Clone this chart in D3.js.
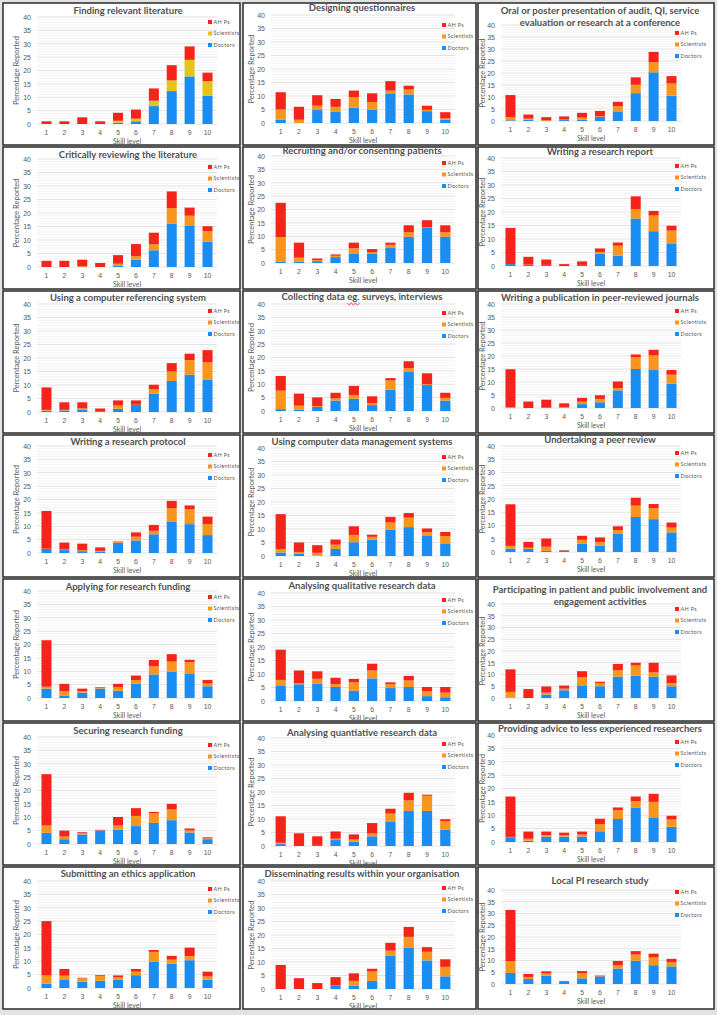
<!DOCTYPE html>
<html><head><meta charset="utf-8">
<script src="https://cdn.jsdelivr.net/npm/d3@7"></script>
<style>
body{margin:0;background:#e2e2e2;}
svg{display:block;font-family:Lato,"Open Sans",sans-serif;}
</style></head><body>
<svg id="chart" width="717" height="1015"></svg>
<script>
// values (percentage reported per skill level)
const skillLevels = [1, 2, 3, 4, 5, 6, 7, 8, 9, 10];
const yTicks = [0, 5, 10, 15, 20, 25, 30, 35, 40];
const seriesNames = ["Doctors", "Scientists", "AH Ps"];
const titles = [
  ["Finding relevant literature"],
  ["Designing questionnaires"],
  ["Oral or poster presentation of audit, QI, service", "evaluation or research at a conference"],
  ["Critically reviewing the literature"],
  ["Recruiting and/or consenting patients"],
  ["Writing a research report"],
  ["Using a computer referencing system"],
  ["Collecting data eg. surveys, interviews"],
  ["Writing a publication in peer-reviewed journals"],
  ["Writing a research protocol"],
  ["Using computer data management systems"],
  ["Undertaking a peer review"],
  ["Applying for research funding"],
  ["Analysing qualitative research data"],
  ["Participating in patient and public involvement and", "engagement activities"],
  ["Securing research funding"],
  ["Analysing quantiative research data"],
  ["Providing advice to less experienced researchers"],
  ["Submitting an ethics application"],
  ["Disseminating results within your organisation"],
  ["Local PI research study"]
];
const doctors = [
  [0, 0, 0, 0, 0.5, 1.0, 6.7, 12.3, 17.8, 10.5],
  [1.2, 0, 4.8, 4.3, 5.7, 5.0, 11.0, 10.6, 4.4, 1.2],
  [0.3, 0.5, 0, 0.4, 0.5, 1.7, 4.0, 11.6, 20.3, 10.5],
  [0, 0, 0, 0, 0.4, 2.7, 6.2, 16.0, 15.2, 9.4],
  [0.4, 0.4, 0.7, 2.2, 3.6, 3.6, 5.6, 9.8, 13.2, 9.8],
  [0.7, 0.4, 0.4, 0, 0.4, 4.5, 3.8, 17.6, 12.9, 8.4],
  [0.5, 0.6, 0.8, 0.1, 1.2, 2.7, 6.8, 11.5, 13.8, 11.9],
  [0.7, 0.4, 1.5, 3.9, 4.6, 2.2, 8.0, 14.6, 9.7, 3.9],
  [0, 0, 0.3, 0, 1.5, 2.2, 6.8, 15.0, 14.6, 9.4],
  [1.5, 1.1, 0.7, 0.6, 3.8, 4.7, 7.0, 11.6, 10.8, 6.7],
  [1.3, 0.8, 0.1, 2.6, 5.1, 6.1, 9.7, 10.7, 7.4, 4.7],
  [1.3, 1.2, 0.4, 0.5, 3.1, 2.4, 7.0, 13.2, 12.4, 7.4],
  [3.5, 0.8, 2.0, 3.5, 2.7, 5.3, 8.8, 9.9, 9.2, 4.4],
  [5.8, 6.2, 6.5, 5.2, 3.8, 8.4, 4.8, 5.2, 1.8, 1.4],
  [0.1, 0, 1.5, 3.3, 5.4, 5.0, 9.1, 9.5, 9.1, 5.0],
  [4.2, 1.8, 3.6, 5.0, 5.3, 6.7, 7.9, 8.9, 4.3, 1.8],
  [0.7, 0, 0.4, 2.2, 1.6, 3.6, 8.9, 13.0, 13.0, 6.1],
  [1.8, 0.5, 2.0, 2.0, 2.0, 4.0, 8.6, 12.9, 9.2, 5.7],
  [1.6, 3.0, 2.4, 2.7, 3.2, 4.8, 9.9, 9.1, 10.4, 3.1],
  [0, 0, 0, 1.3, 1.3, 3.0, 12.4, 15.2, 10.6, 4.7],
  [4.7, 2.1, 3.6, 1.2, 2.4, 3.2, 6.6, 9.9, 8.0, 7.5]
];
const scientists = [
  [0, 0, 0, 0, 0.7, 1.0, 2.0, 4.0, 6.2, 5.5],
  [3.8, 1.2, 1.6, 1.7, 3.9, 2.8, 1.0, 1.8, 0.5, 0.5],
  [1.3, 0.5, 0.3, 0.2, 0.9, 0.3, 2.2, 3.5, 4.2, 5.1],
  [0, 0, 0.3, 0, 0.8, 1.3, 2.2, 5.8, 3.8, 3.9],
  [9.3, 1.6, 0.4, 0.5, 1.9, 0.5, 1.2, 1.7, 0.1, 1.7],
  [0, 0.1, 0, 0, 0, 0.7, 3.7, 3.5, 5.8, 4.7],
  [0.3, 0.2, 0.5, 0, 1.2, 0, 1.6, 3.5, 5.4, 6.5],
  [6.9, 1.6, 0.3, 0.8, 1.4, 0.8, 3.4, 1.4, 0.3, 1.0],
  [0.3, 0, 0, 0.3, 0.9, 1.3, 0.9, 4.6, 5.6, 3.4],
  [0.1, 0.2, 0.3, 0.2, 0.3, 1.4, 1.3, 5.1, 5.5, 4.1],
  [1.3, 0.7, 1.1, 1.6, 2.7, 1.0, 2.7, 3.5, 1.4, 2.7],
  [1.0, 0.4, 1.6, 0, 1.5, 1.4, 1.3, 4.3, 4.1, 1.8],
  [0.7, 1.7, 0.6, 0.2, 1.4, 1.4, 3.0, 3.7, 4.2, 1.0],
  [2.0, 0.3, 1.7, 1.0, 3.1, 2.9, 1.4, 2.4, 1.8, 1.7],
  [2.5, 0, 0.8, 0.7, 3.4, 1.3, 2.7, 4.3, 1.8, 1.3],
  [2.7, 1.0, 0.4, 0.1, 1.6, 3.8, 3.6, 4.0, 0.8, 0.3],
  [0.5, 0, 0, 0.5, 0.8, 1.0, 3.1, 3.9, 5.6, 3.1],
  [0.1, 0.7, 0.6, 0.6, 0.8, 2.7, 3.3, 2.4, 5.8, 2.7],
  [3.1, 1.6, 1.2, 1.8, 0.9, 1.3, 3.6, 1.5, 1.5, 1.2],
  [0, 0, 0, 0, 1.7, 3.5, 1.8, 4.1, 3.2, 3.5],
  [5.0, 0.9, 0.9, 0, 2.2, 0.1, 1.3, 2.6, 3.3, 1.8]
];
const ahps = [
  [1.0, 1.0, 2.5, 1.0, 3.0, 3.4, 4.6, 5.7, 5.0, 3.2],
  [6.4, 4.8, 3.9, 2.9, 2.4, 3.2, 3.5, 1.4, 1.5, 2.3],
  [9.2, 1.7, 1.3, 1.3, 2.0, 2.2, 1.8, 3.1, 4.3, 3.1],
  [2.3, 2.3, 2.4, 1.5, 3.2, 4.5, 4.3, 6.2, 3.0, 1.8],
  [12.8, 5.6, 0.6, 0.5, 2.1, 1.1, 0.8, 2.6, 2.7, 2.6],
  [13.4, 2.9, 2.0, 0.7, 1.3, 1.3, 1.2, 4.7, 1.7, 1.8],
  [8.3, 2.8, 2.3, 1.2, 1.9, 1.6, 1.7, 3.1, 2.4, 4.5],
  [5.5, 4.5, 3.3, 2.1, 3.4, 2.5, 0.9, 2.6, 4.1, 1.9],
  [14.6, 2.5, 2.9, 1.5, 1.5, 1.4, 2.5, 1.0, 2.2, 1.8],
  [14.1, 2.6, 2.5, 1.3, 0.2, 1.6, 2.2, 2.8, 1.5, 2.8],
  [12.9, 3.5, 2.8, 1.9, 3.2, 0.8, 2.1, 1.7, 1.4, 1.5],
  [15.7, 2.2, 3.1, 0.2, 1.5, 1.7, 1.4, 3.0, 1.6, 1.9],
  [17.4, 2.8, 0.9, 0.3, 1.2, 1.7, 2.4, 2.8, 0.9, 1.3],
  [11.2, 4.8, 2.8, 2.4, 1.3, 2.5, 0.7, 1.7, 1.6, 2.1],
  [9.6, 3.8, 2.6, 1.3, 2.6, 0.6, 2.7, 1.2, 4.1, 3.3],
  [19.2, 2.2, 0.4, 0.2, 3.2, 2.9, 0.5, 2.1, 0.7, 0.4],
  [9.8, 4.7, 3.2, 2.7, 1.9, 3.9, 1.8, 2.8, 0.4, 0.7],
  [15.1, 2.7, 1.3, 0.9, 1.1, 2.0, 1.0, 1.7, 3.0, 1.4],
  [20.3, 2.5, 0.2, 0.3, 0.6, 1.0, 0.7, 1.4, 3.2, 1.8],
  [8.9, 4.0, 2.2, 3.1, 2.8, 1.0, 2.9, 3.7, 1.7, 2.8],
  [21.8, 1.3, 0.9, 0.1, 0.9, 0.3, 1.9, 1.5, 1.6, 1.4]
];

// layout of the collage (pixels, relative to each panel)
const colL = [3, 243, 478], colW = [237, 233, 236];
const rowT0 = 3, rowStep = 144, panelH = 142;
const plotX = [[34, 214], [28, 212], [23, 203]];
const yTitleX = [13, 8, 4];
const legendX = [205, 199, 197];
const titleCx = [125, 119, 122];
const plotTop = [14,12,22, 12,9,11, 13,13,13, 11,13,11, 12,14,25, 14,15,12, 14,14,23];
const plotBottom = [121,120,118, 120,116,119, 121,120,117, 118,121,117, 119,122,119, 121,123,119, 121,122,117];
const titleY = [8,5,8, 8,4,5, 7,6,7, 7,7,5, 8,7,11, 8,10,6, 7,7,14];
const legendY = [19,22,30, 20,16,19, 20,22,20, 20,22,18, 18,21,30, 22,21,19, 22,21,25];

const colour = {"Doctors": "#1a8df2", "Scientists": "#f7951c", "AH Ps": "#f4241a"};
const txt = "#595959";

const svg = d3.select("#chart");
const stack = d3.stack().keys(seriesNames);

titles.forEach(function(t, i) {
  var col = i % 3, row = Math.floor(i / 3);
  var g = svg.append("g").attr("transform", "translate(" + colL[col] + "," + (rowT0 + row * rowStep) + ")");
  g.append("rect").attr("width", colW[col]).attr("height", panelH)
    .attr("fill", "#fff").attr("stroke", "#2a2a2a").attr("stroke-width", 1.5);

  var x = d3.scaleBand().domain(skillLevels).range(plotX[col]).paddingInner(0.44).paddingOuter(0.25);
  var y = d3.scaleLinear().domain([0, 40]).range([plotBottom[i], plotTop[i]]);
  var sciCol = i === 0 ? "#e6c417" : colour["Scientists"];
  var fill = function(k) { return k === "Scientists" ? sciCol : colour[k]; };

  // gridlines
  g.append("g").selectAll("line")
    .data(d3.range(1, 40).filter(function(v) { return v % 5 !== 0; }))
    .join("line")
      .attr("x1", plotX[col][0]).attr("x2", plotX[col][1])
      .attr("y1", function(d) { return y(d); }).attr("y2", function(d) { return y(d); })
      .attr("stroke", "#ebebeb").attr("stroke-width", 0.6);
  g.append("g").selectAll("line").data(yTicks).join("line")
      .attr("x1", plotX[col][0]).attr("x2", plotX[col][1])
      .attr("y1", function(d) { return y(d); }).attr("y2", function(d) { return y(d); })
      .attr("stroke", "#d9d9d9").attr("stroke-width", 0.8);

  // stacked bars
  var rows = skillLevels.map(function(s, j) {
    return {level: s, "Doctors": doctors[i][j], "Scientists": scientists[i][j], "AH Ps": ahps[i][j]};
  });
  g.append("g").selectAll("g").data(stack(rows)).join("g")
      .attr("fill", function(d) { return fill(d.key); })
    .selectAll("rect").data(function(d) { return d; }).join("rect")
      .attr("x", function(d) { return x(d.data.level); })
      .attr("width", x.bandwidth())
      .attr("y", function(d) { return y(d[1]); })
      .attr("height", function(d) { return Math.max(0, y(d[0]) - y(d[1])); });

  // axes
  var ya = g.append("g").attr("transform", "translate(" + plotX[col][0] + ",0)")
    .call(d3.axisLeft(y).tickValues(yTicks).tickSize(0).tickPadding(6));
  ya.select(".domain").remove();
  ya.selectAll("text").attr("fill", txt).style("font-size", "7px");
  var xa = g.append("g").attr("transform", "translate(0," + plotBottom[i] + ")")
    .call(d3.axisBottom(x).tickSize(0).tickPadding(6));
  xa.select(".domain").remove();
  xa.selectAll("text").attr("fill", txt).style("font-size", "6.8px");

  g.append("text").attr("x", (plotX[col][0] + plotX[col][1]) / 2).attr("y", plotBottom[i] + 20)
    .attr("text-anchor", "middle").attr("fill", txt).style("font-size", "7px").text("Skill level");
  var ymid = (plotTop[i] + plotBottom[i]) / 2;
  g.append("text").attr("transform", "translate(" + yTitleX[col] + "," + ymid + ") rotate(-90)")
    .attr("text-anchor", "middle").attr("dy", "0.35em").attr("fill", txt)
    .style("font-size", "7.5px").text("Percentage Reported");

  // title
  t.forEach(function(line, k) {
    var te = g.append("text").attr("x", titleCx[col]).attr("y", titleY[i] + k * 12)
      .attr("dy", "0.35em").attr("text-anchor", "middle").attr("fill", "#505050")
      .style("font-size", "9.5px").style("font-weight", "bold").text(line);
    var at = line.indexOf("eg.");
    if (at >= 0) {
      var node = te.node();
      var sx = node.getStartPositionOfChar(at).x, ex = node.getEndPositionOfChar(at + 2).x;
      var zz = d3.range(0, 7).map(function(q) { return [sx + (ex - sx) * q / 6, titleY[i] + 6 + (q % 2 ? 2 : 0)]; });
      g.append("path").attr("d", d3.line()(zz)).attr("fill", "none").attr("stroke", "#e8262b").attr("stroke-width", 0.9);
    }
  });

  // legend
  var lg = g.append("g").attr("transform", "translate(" + legendX[col] + "," + legendY[i] + ")");
  var items = seriesNames.slice().reverse();
  lg.selectAll("rect").data(items).join("rect")
    .attr("x", 0).attr("y", function(d, k) { return k * 11.5 - 2; })
    .attr("width", 4).attr("height", 4).attr("fill", fill);
  lg.selectAll("text").data(items).join("text")
    .attr("x", 5.5).attr("y", function(d, k) { return k * 11.5; }).attr("dy", "0.35em")
    .attr("fill", txt).style("font-size", "5.5px").style("letter-spacing", "0.3px")
    .text(function(d) { return d; });
});
</script>
</body></html>
